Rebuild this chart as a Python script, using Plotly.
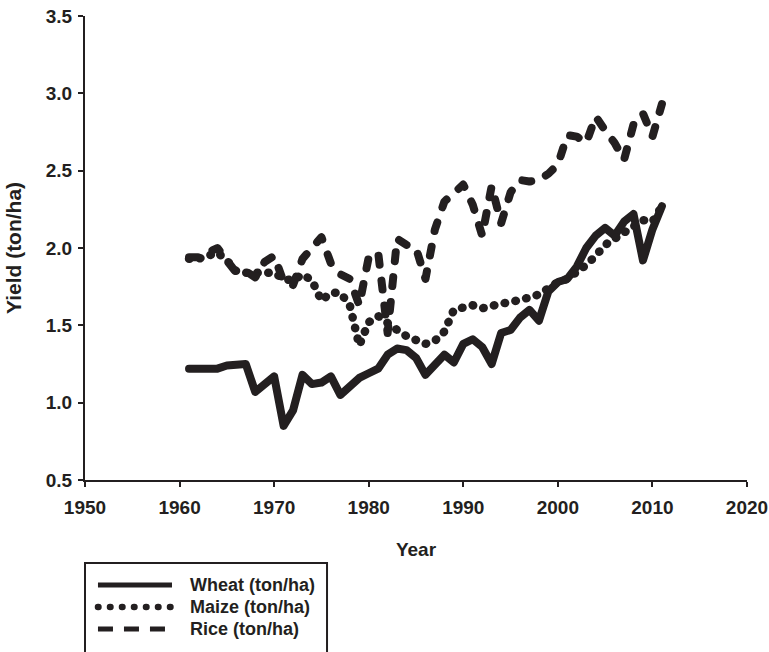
import plotly.graph_objects as go

# Annual yields, 1961-2011
years = list(range(1961, 2012))

wheat = [1.22, 1.22, 1.23, 1.22, 1.24, 1.25, 1.25, 1.07, 1.12, 1.17,
         0.85, 0.95, 1.18, 1.12, 1.13, 1.17, 1.05, 1.11, 1.16, 1.19,
         1.22, 1.31, 1.35, 1.34, 1.29, 1.18, 1.24, 1.31, 1.26, 1.38,
         1.41, 1.36, 1.25, 1.45, 1.47, 1.55, 1.60, 1.53, 1.72, 1.78,
         1.80, 1.88, 2.00, 2.08, 2.13, 2.08, 2.17, 2.22, 1.92, 2.12, 2.27]

maize = [1.93, 1.93, 1.95, 1.97, 1.92, 1.85, 1.84, 1.84, 1.84, 1.84,
         1.80, 1.79, 1.83, 1.79, 1.66, 1.71, 1.71, 1.63, 1.37, 1.52,
         1.56, 1.51, 1.47, 1.43, 1.40, 1.38, 1.40, 1.46, 1.60, 1.61,
         1.63, 1.61, 1.63, 1.64, 1.65, 1.66, 1.68, 1.70, 1.74, 1.78,
         1.80, 1.84, 1.89, 1.95, 2.02, 2.06, 2.10, 2.14, 2.18, 2.17, 2.27]

rice = [1.94, 1.94, 1.97, 2.00, 1.92, 1.84, 1.85, 1.81, 1.91, 1.95,
        1.78, 1.76, 1.93, 2.00, 2.07, 1.90, 1.83, 1.80, 1.63, 1.94,
        1.97, 1.45, 2.06, 2.02, 2.00, 1.80, 2.12, 2.30, 2.36, 2.41,
        2.28, 2.08, 2.40, 2.16, 2.36, 2.44, 2.43, 2.44, 2.48, 2.54,
        2.73, 2.72, 2.68, 2.85, 2.76, 2.68, 2.57, 2.80, 2.87, 2.72, 2.93]

series_names = ["Wheat (ton/ha)", "Maize (ton/ha)", "Rice (ton/ha)"]
x_ticks = [1950, 1960, 1970, 1980, 1990, 2000, 2010, 2020]
y_ticks = [0.5, 1.0, 1.5, 2.0, 2.5, 3.0, 3.5]

INK = "#231f20"
FONT = "Liberation Sans, Arial, Helvetica, sans-serif"

DOT = "0.5px,10.5px"
DASH = "9px,16px"

fig = go.Figure()
fig.add_trace(go.Scatter(x=years, y=wheat, mode="lines", name=series_names[0],
                         line=dict(color=INK, width=8, dash="solid")))
fig.add_trace(go.Scatter(x=years, y=maize, mode="lines", name=series_names[1],
                         line=dict(color=INK, width=8.5, dash=DOT)))
fig.add_trace(go.Scatter(x=years, y=rice, mode="lines", name=series_names[2],
                         line=dict(color=INK, width=8, dash=DASH)))

# Boxed key below the plot, drawn in paper coordinates
key_rows = [-0.2263, -0.2737, -0.3211]
key_styles = [dict(width=5, dash="solid"),
              dict(width=6.5, dash="0.5px,11.5px"),
              dict(width=5, dash="15px,11px")]
shapes = [dict(type="rect", xref="paper", yref="paper",
               x0=0.0, x1=0.3656, y0=-0.385, y1=-0.1789,
               line=dict(color=INK, width=2), fillcolor="rgba(0,0,0,0)")]
annotations = []
for yk, st, name in zip(key_rows, key_styles, series_names):
    shapes.append(dict(type="line", xref="paper", yref="paper",
                       x0=0.0196, x1=0.1314, y0=yk, y1=yk,
                       line=dict(color=INK, width=st["width"], dash=st["dash"])))
    annotations.append(dict(xref="paper", yref="paper", x=0.1556, y=yk,
                            xanchor="left", yanchor="middle", showarrow=False,
                            text=name,
                            font=dict(family=FONT, size=18, color=INK, weight="bold")))

axis_common = dict(showline=True, linecolor=INK, linewidth=2,
                   ticks="outside", ticklen=5, tickwidth=2, tickcolor=INK,
                   showgrid=False, zeroline=False, automargin=False,
                   tickfont=dict(family=FONT, size=19, color=INK, weight="bold"))

fig.update_layout(
    width=769, height=652,
    margin=dict(l=85, r=22, t=16, b=172),
    paper_bgcolor="white", plot_bgcolor="white",
    showlegend=False,
    shapes=shapes,
    annotations=annotations,
    xaxis=dict(range=[1950, 2020], tickvals=x_ticks, ticklabelstandoff=4,
               title=dict(text="Year", standoff=26,
                          font=dict(family=FONT, size=19, color=INK, weight="bold")),
               **axis_common),
    yaxis=dict(range=[0.5, 3.5], tickvals=y_ticks, tickformat=".1f",
               ticklabelstandoff=2,
               title=dict(text="Yield (ton/ha)", standoff=18,
                          font=dict(family=FONT, size=21, color=INK, weight="bold")),
               **axis_common),
)

# Rounded caps and joins give the dotted and dashed strokes their pill shape
post = """
var gd = document.getElementById('{plot_id}');
gd.querySelectorAll('.scatterlayer path.js-line').forEach(function(p){
  p.style.strokeLinecap = 'round'; p.style.strokeLinejoin = 'round';
});
gd.querySelectorAll('.shapelayer path').forEach(function(p){
  if ((p.style.strokeDasharray || '').indexOf('0.5') === 0) {
    p.style.strokeLinecap = 'round';
  }
});
"""

fig.write_html("out.html", post_script=post)
